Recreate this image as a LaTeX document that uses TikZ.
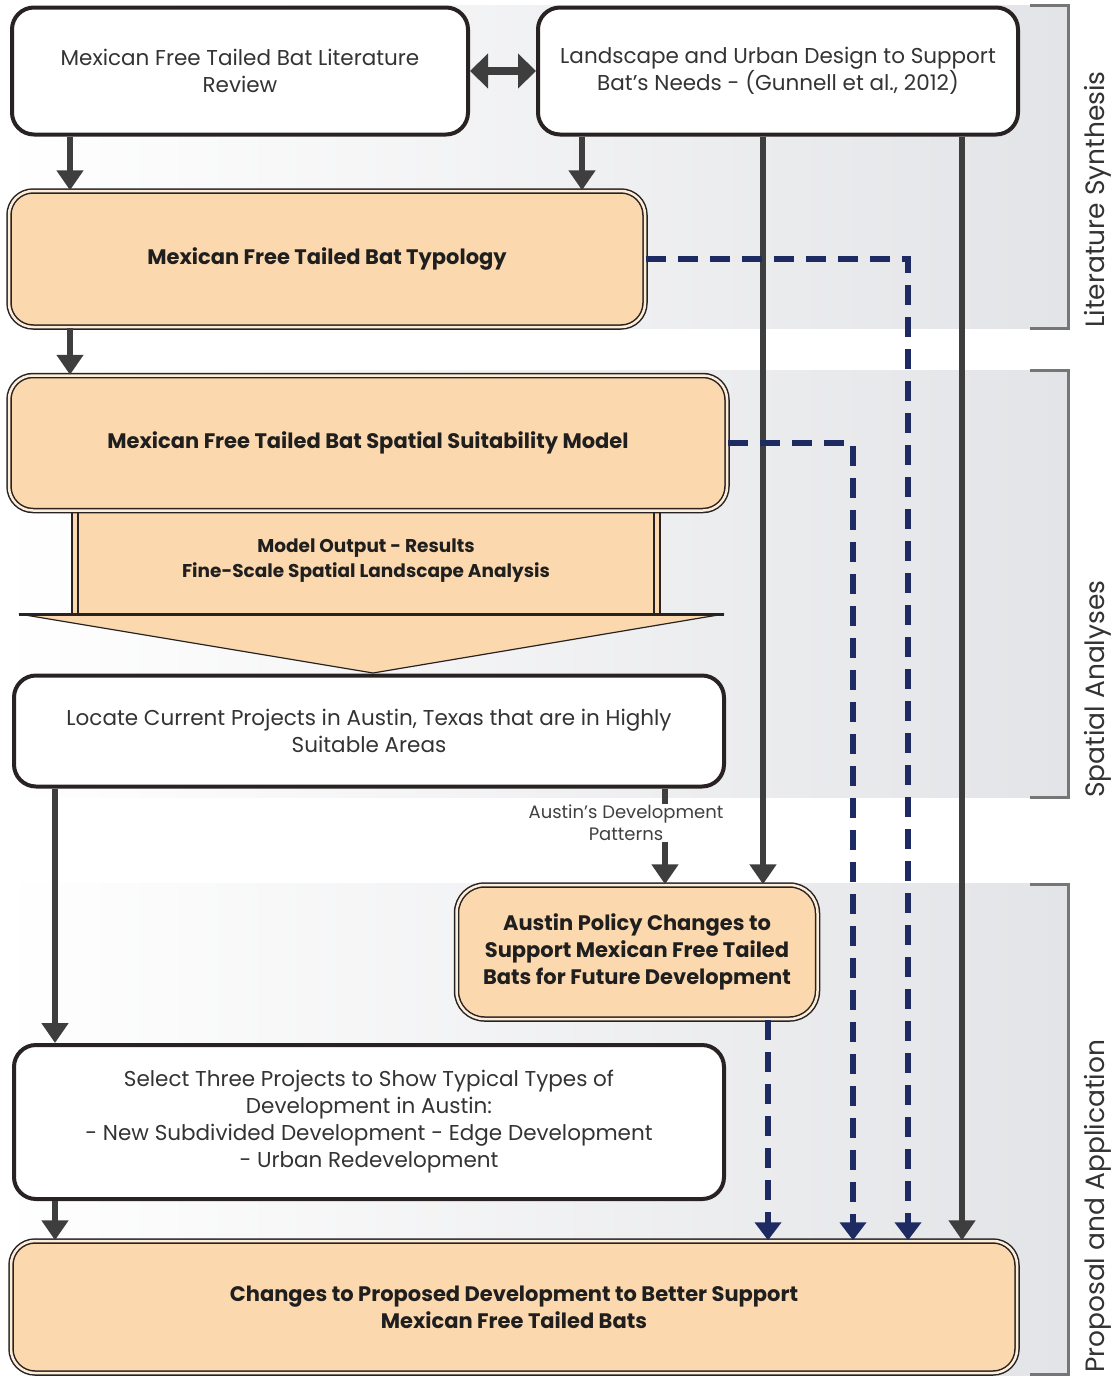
\documentclass[tikz,border=0pt]{standalone}
\usepackage{fontspec}
\setmainfont{Poppins}
\usetikzlibrary{arrows.meta}

\definecolor{batorange}{RGB}{252,216,174}
\definecolor{batcream}{RGB}{253,238,218}
\definecolor{batline}{RGB}{40,34,34}
\definecolor{batgray}{RGB}{62,62,62}
\definecolor{batnavy}{RGB}{30,42,98}
\definecolor{bandgray}{RGB}{227,228,231}
\definecolor{bracketgray}{RGB}{118,118,118}

\begin{document}
\begin{tikzpicture}[x=1pt,y=-1pt]
      \tikzstyle{taskbox}=[draw=batline,line width=4pt,fill=white,rounded corners=22pt,align=center,text=black!80,font=\fontsize{21.5}{27}\selectfont]
      \tikzstyle{stagebox}=[draw=batline,line width=1.5pt,double=batcream,double distance=2.5pt,fill=batorange,rounded corners=24pt,align=center,text=black!88,font=\bfseries\fontsize{21}{27}\selectfont]
      \tikzstyle{flow}=[batgray,line width=6pt,-{Triangle[width=26pt,length=20pt]}]
      \tikzstyle{feed}=[batnavy,line width=6pt,dash pattern=on 20pt off 12pt,-{Triangle[width=26pt,length=18pt]}]
      \tikzstyle{band}=[left color=white,right color=bandgray]
      \tikzstyle{bracket}=[bracketgray,line width=3pt]
      \tikzstyle{phase}=[rotate=90,anchor=west,inner sep=0pt,text=black!80,font=\fontsize{26.5}{27}\selectfont]

      \useasboundingbox (0,0) rectangle (1118,1376);

      % phase bands
      \fill[band] (0,5) rectangle (1068,328);
      \fill[band] (0,370) rectangle (1068,797);
      \fill[band] (0,883) rectangle (1068,1376);
      \draw[bracket] (1030,5) -- (1068,5) -- (1068,328) -- (1030,328);
      \draw[bracket] (1030,370) -- (1068,370) -- (1068,797) -- (1030,797);
      \draw[bracket] (1030,884) -- (1068,884) -- (1068,1374) -- (1030,1374);
      \node[phase] (litphase) at (1098,328) {Literature Synthesis};
      \node[phase] (spaphase) at (1098,798) {Spatial Analyses};
      \node[phase] (prophase) at (1098,1373) {Proposal and Application};

      \coordinate (laneA) at (70,0);
      \coordinate (laneB) at (582,0);
      \coordinate (laneC) at (763,0);
      \coordinate (laneD) at (962,0);
      \coordinate (laneE) at (908,0);
      \coordinate (laneF) at (853,0);
      \coordinate (laneG) at (768,0);
      \coordinate (laneH) at (665,0);
      \coordinate (laneI) at (55,0);

      % model output block
      \fill[batorange] (71,512) rectangle (661,614);
      \draw[batline,line width=2.5pt] (72,512) -- (72,614) (78,512) -- (78,614);
      \draw[batline,line width=2.5pt] (654,512) -- (654,614) (660,512) -- (660,614);
      \filldraw[fill=batorange,draw=batline,line width=1.2pt] (19,614) -- (724,614) -- (373,673) -- cycle;
      \draw[batline,line width=3pt] (19,614) -- (724,614);
      \node[align=center,text=black!88,font=\bfseries\fontsize{18.5}{25}\selectfont] (outp) at (366,561) {Model Output - Results\\Fine-Scale Spatial Landscape Analysis};

      \node[taskbox,minimum width=456pt,minimum height=127pt] (lit) at (240,71) {Mexican Free Tailed Bat Literature\\Review};
      \node[taskbox,minimum width=480pt,minimum height=127pt] (land) at (778,71) {Landscape and Urban Design to Support\\Bat’s Needs - (Gunnell et al., 2012)};
      \node[stagebox,minimum width=636pt,minimum height=136pt] (typo) at (327,259) {Mexican Free Tailed Bat Typology};
      \node[stagebox,minimum width=718pt,minimum height=135pt] (model) at (368,443) {Mexican Free Tailed Bat Spatial Suitability Model};
      \node[taskbox,minimum width=710pt,minimum height=111pt] (locate) at (369,731) {Locate Current Projects in Austin, Texas that are in Highly\\Suitable Areas};
      \node[stagebox,minimum width=361pt,minimum height=134pt,rounded corners=28pt] (policy) at (637,952) {Austin Policy Changes to\\Support Mexican Free Tailed\\Bats for Future Development};
      \node[taskbox,minimum width=710pt,minimum height=154pt] (select) at (369,1122) {Select Three Projects to Show Typical Types of\\Development in Austin:\\- New Subdivided Development - Edge Development\\- Urban Redevelopment};
      \node[stagebox,minimum width=1006pt,minimum height=132pt] (changes) at (514,1307) {Changes to Proposed Development to Better Support\\Mexican Free Tailed Bats};

      \draw[batgray,line width=8pt,{Triangle[width=34pt,length=18pt]}-{Triangle[width=34pt,length=18pt]}] (lit.east) -- (land.west);
      \draw[flow] (lit.south -| laneA) -- (typo.north -| laneA);
      \draw[flow] (land.south -| laneB) -- (typo.north -| laneB);
      \draw[flow] (land.south -| laneC) -- (policy.north -| laneC);
      \draw[flow] (land.south -| laneD) -- (changes.north -| laneD);
      \draw[flow] (typo.south -| laneA) -- (model.north -| laneA);
      \draw[flow] (locate.south -| laneH) -- (policy.north -| laneH);
      \node[fill=white,inner sep=1pt,align=center,text=black!75,font=\fontsize{18}{22}\selectfont] (devlabel) at (626,823) {Austin’s Development\\Patterns};
      \draw[flow] (locate.south -| laneI) -- (select.north -| laneI);
      \draw[flow] (select.south -| laneI) -- (changes.north -| laneI);

      % feedback to the proposal
      \draw[feed] (typo.east) -- (typo.east -| laneE) -- (changes.north -| laneE);
      \draw[feed] (model.east) -- (model.east -| laneF) -- (changes.north -| laneF);
      \draw[feed] (policy.south -| laneG) -- (changes.north -| laneG);
\end{tikzpicture}
\end{document}
